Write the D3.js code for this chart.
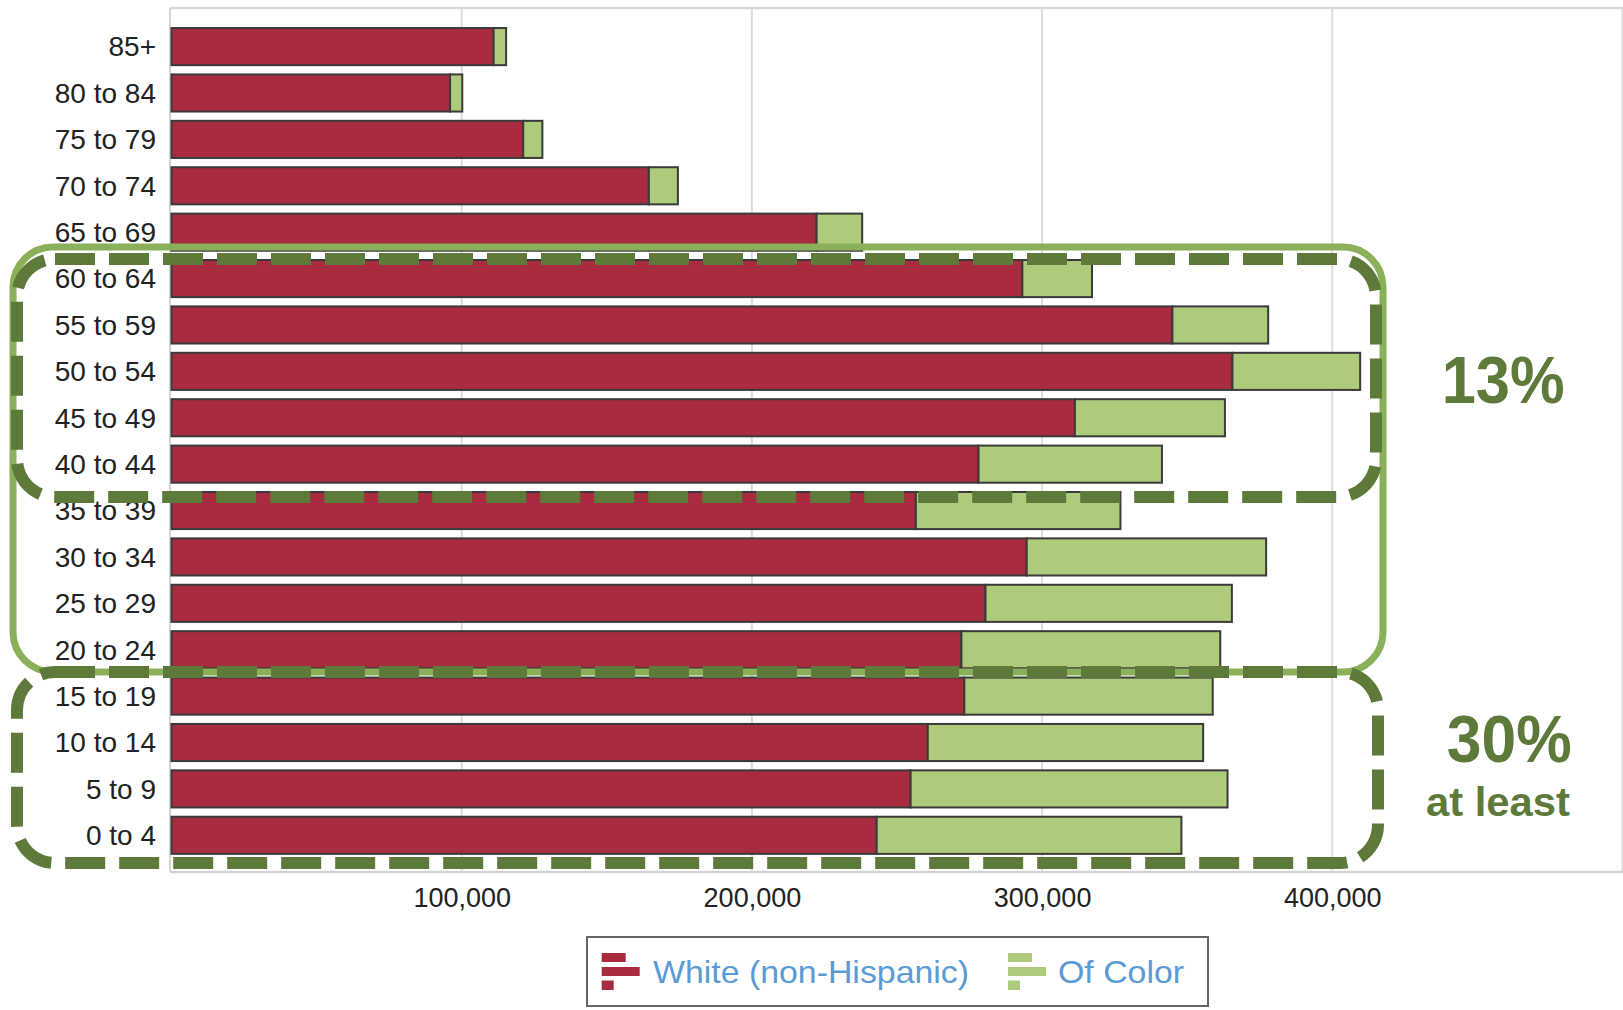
<!DOCTYPE html>
<html>
<head>
<meta charset="utf-8">
<script src="https://cdn.jsdelivr.net/npm/d3@7"></script>
<style>
  html, body { margin: 0; padding: 0; background: #fff; }
  svg { display: block; font-family: "Liberation Sans", Arial, sans-serif; }
</style>
</head>
<body>
<svg id="chart" width="1623" height="1010"></svg>
<script>
const categories = ["85+", "80 to 84", "75 to 79", "70 to 74", "65 to 69", "60 to 64", "55 to 59", "50 to 54", "45 to 49", "40 to 44", "35 to 39", "30 to 34", "25 to 29", "20 to 24", "15 to 19", "10 to 14", "5 to 9", "0 to 4"];
const whiteValues = [111000, 96000, 121200, 164500, 222300, 293200, 344900, 365600, 311300, 278100, 256500, 294700, 280500, 272200, 273200, 260600, 254700, 243000];
const colorValues = [4300, 4200, 6600, 10000, 15700, 24000, 33000, 44000, 51700, 63200, 70500, 82500, 84900, 89200, 85600, 94900, 109200, 105000];
const xTicks = [100000, 200000, 300000, 400000];
const seriesNames = ["White (non-Hispanic)", "Of Color"];
const annotations = ["13%", "30%", "at least"];

const RED = "#A92B3F", GREEN = "#AECB7B";
const DARK = "#5E7A3A", LIGHT = "#8BB05A";

const svg = d3.select("#chart");
const x = d3.scaleLinear().domain([0, 500000]).range([171.5, 1622.5]);
const y = d3.scaleBand().domain(categories).range([23.4, 858.5]).paddingInner(0.2).paddingOuter(0.1);

// gridlines
svg.append("g").selectAll("line").data(xTicks.concat([500000])).join("line")
  .attr("x1", d => x(d)).attr("x2", d => x(d))
  .attr("y1", 8).attr("y2", 872)
  .attr("stroke", "#dcdcdc").attr("stroke-width", 2);
// frame
svg.append("line").attr("x1", 170).attr("x2", 1623).attr("y1", 8).attr("y2", 8).attr("stroke", "#d8d8d8").attr("stroke-width", 2.5);
svg.append("line").attr("x1", 170).attr("x2", 1623).attr("y1", 872).attr("y2", 872).attr("stroke", "#d4d4d4").attr("stroke-width", 2.5);
svg.append("line").attr("x1", 170).attr("x2", 170).attr("y1", 8).attr("y2", 872).attr("stroke", "#d4d4d4").attr("stroke-width", 2);

// bars
const rows = categories.map((c, i) => ({ c, w: whiteValues[i], o: colorValues[i] }));
const bars = svg.append("g");
bars.selectAll("rect.w").data(rows).join("rect").attr("class", "w")
  .attr("x", x(0)).attr("y", d => y(d.c))
  .attr("width", d => x(d.w) - x(0)).attr("height", y.bandwidth())
  .attr("fill", RED).attr("stroke", "#3a3a3a").attr("stroke-width", 2);
bars.selectAll("rect.o").data(rows).join("rect").attr("class", "o")
  .attr("x", d => x(d.w)).attr("y", d => y(d.c))
  .attr("width", d => x(d.w + d.o) - x(d.w)).attr("height", y.bandwidth())
  .attr("fill", GREEN).attr("stroke", "#3a3a3a").attr("stroke-width", 2);

// y labels
const yAxis = d3.axisLeft(y).tickSize(0).tickPadding(0);
const gy = svg.append("g").attr("transform", "translate(156,0)").call(yAxis);
gy.select(".domain").remove();
gy.selectAll("text").attr("font-size", 28).attr("fill", "#222").attr("dy", "0.35em")
  .attr("font-family", "Liberation Sans, Arial, sans-serif");

// x labels
const xAxis = d3.axisBottom(x).tickValues(xTicks).tickSize(0).tickPadding(0).tickFormat(d3.format(","));
const gx = svg.append("g").attr("transform", "translate(0,898)").call(xAxis);
gx.select(".domain").remove();
gx.selectAll("text").attr("font-size", 27).attr("fill", "#222").attr("dy", "0.35em")
  .attr("font-family", "Liberation Sans, Arial, sans-serif");

// annotation boxes
svg.append("rect").attr("x", 13).attr("y", 247).attr("width", 1370).attr("height", 425).attr("rx", 40)
  .attr("fill", "none").attr("stroke", LIGHT).attr("stroke-width", 7);
svg.append("rect").attr("x", 17).attr("y", 259).attr("width", 1359).attr("height", 238).attr("rx", 38)
  .attr("fill", "none").attr("stroke", DARK).attr("stroke-width", 12).attr("stroke-dasharray", "40,14");
svg.append("rect").attr("x", 17).attr("y", 672).attr("width", 1361).attr("height", 191).attr("rx", 38)
  .attr("fill", "none").attr("stroke", DARK).attr("stroke-width", 12).attr("stroke-dasharray", "40,14");

// annotation texts
svg.append("text").attr("x", 1441.7).attr("y", 402.7).attr("font-size", 67).attr("font-weight", "bold")
  .attr("fill", DARK).attr("textLength", 123).attr("lengthAdjust", "spacingAndGlyphs").text(annotations[0]);
svg.append("text").attr("x", 1446.7).attr("y", 761.7).attr("font-size", 67).attr("font-weight", "bold")
  .attr("fill", DARK).attr("textLength", 125).attr("lengthAdjust", "spacingAndGlyphs").text(annotations[1]);
svg.append("text").attr("x", 1426).attr("y", 816).attr("font-size", 41).attr("font-weight", "bold")
  .attr("fill", DARK).attr("textLength", 144).attr("lengthAdjust", "spacingAndGlyphs").text(annotations[2]);

// legend
const lg = svg.append("g");
lg.append("rect").attr("x", 587).attr("y", 937).attr("width", 621).attr("height", 69)
  .attr("fill", "#fff").attr("stroke", "#666").attr("stroke-width", 2);
const legendItems = [
  { name: seriesNames[0], color: RED, ix: 601.7, tx: 653, tw: 316 },
  { name: seriesNames[1], color: GREEN, ix: 1008, tx: 1058, tw: 126 }
];
legendItems.forEach(it => {
  const g = lg.append("g");
  g.append("rect").attr("x", it.ix).attr("y", 953).attr("width", 24).attr("height", 9).attr("fill", it.color);
  g.append("rect").attr("x", it.ix).attr("y", 967).attr("width", 38).attr("height", 9).attr("fill", it.color);
  g.append("rect").attr("x", it.ix).attr("y", 980.5).attr("width", 12).attr("height", 9.5).attr("fill", it.color);
  g.append("text").attr("x", it.tx).attr("y", 983).attr("font-size", 32).attr("fill", "#5B9BD5")
    .attr("textLength", it.tw).attr("lengthAdjust", "spacingAndGlyphs").text(it.name);
});
</script>
</body>
</html>
